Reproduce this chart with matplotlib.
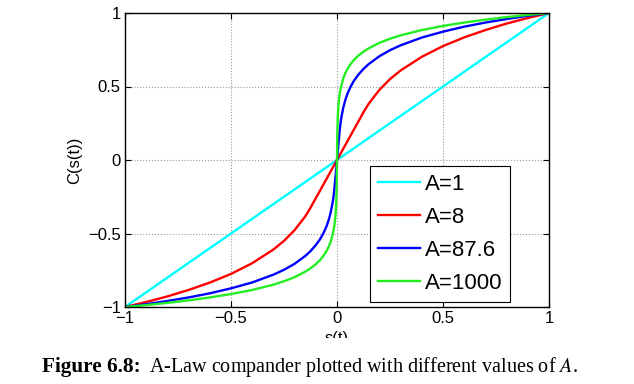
import matplotlib
matplotlib.use("Agg")
import matplotlib.pyplot as plt
from matplotlib.patches import Rectangle

# input s(t) samples shared by all curves
s = [-1.0, -0.9, -0.8, -0.7, -0.6, -0.5, -0.4, -0.3, -0.25, -0.2, -0.15, -0.125,
     -0.1, -0.08, -0.065, -0.05, -0.04, -0.03, -0.02, -0.015, -0.011, -0.007,
     -0.004, -0.002, -0.001, 0.0,
     0.001, 0.002, 0.004, 0.007, 0.011, 0.015, 0.02, 0.03, 0.04, 0.05, 0.065,
     0.08, 0.1, 0.125, 0.15, 0.2, 0.25, 0.3, 0.4, 0.5, 0.6, 0.7, 0.8, 0.9, 1.0]

c_a1 = [-1.0, -0.9, -0.8, -0.7, -0.6, -0.5, -0.4, -0.3, -0.25, -0.2, -0.15, -0.125,
        -0.1, -0.08, -0.065, -0.05, -0.04, -0.03, -0.02, -0.015, -0.011, -0.007,
        -0.004, -0.002, -0.001, 0.0,
        0.001, 0.002, 0.004, 0.007, 0.011, 0.015, 0.02, 0.03, 0.04, 0.05, 0.065,
        0.08, 0.1, 0.125, 0.15, 0.2, 0.25, 0.3, 0.4, 0.5, 0.6, 0.7, 0.8, 0.9, 1.0]

c_a8 = [-1.0, -0.966, -0.928, -0.884, -0.834, -0.775, -0.702, -0.609, -0.550, -0.477,
        -0.384, -0.325, -0.260, -0.208, -0.169, -0.130, -0.104, -0.078, -0.052, -0.039,
        -0.0286, -0.0182, -0.0104, -0.0052, -0.0026, 0.0,
        0.0026, 0.0052, 0.0104, 0.0182, 0.0286, 0.039, 0.052, 0.078, 0.104, 0.130,
        0.169, 0.208, 0.260, 0.325, 0.384, 0.477, 0.550, 0.609, 0.702, 0.775, 0.834,
        0.884, 0.928, 0.966, 1.0]

c_a876 = [-1.0, -0.981, -0.959, -0.935, -0.907, -0.873, -0.833, -0.780, -0.747, -0.706,
          -0.653, -0.620, -0.579, -0.539, -0.501, -0.453, -0.412, -0.359, -0.285, -0.233,
          -0.176, -0.112, -0.064, -0.032, -0.016, 0.0,
          0.016, 0.032, 0.064, 0.112, 0.176, 0.233, 0.285, 0.359, 0.412, 0.453, 0.501,
          0.539, 0.579, 0.620, 0.653, 0.706, 0.747, 0.780, 0.833, 0.873, 0.907, 0.935,
          0.959, 0.981, 1.0]

c_a1000 = [-1.0, -0.987, -0.972, -0.955, -0.935, -0.912, -0.884, -0.848, -0.825, -0.797,
           -0.760, -0.737, -0.709, -0.681, -0.654, -0.621, -0.593, -0.557, -0.505, -0.469,
           -0.430, -0.373, -0.302, -0.214, -0.126, 0.0,
           0.126, 0.214, 0.302, 0.373, 0.430, 0.469, 0.505, 0.557, 0.593, 0.621, 0.654,
           0.681, 0.709, 0.737, 0.760, 0.797, 0.825, 0.848, 0.884, 0.912, 0.935, 0.955,
           0.972, 0.987, 1.0]

labels = ["A=1", "A=8", "A=87.6", "A=1000"]
colors = ["#00ffff", "#ff0000", "#0000ff", "#22ee22"]
ticks = [-1, -0.5, 0, 0.5, 1]
tick_text = ["\u22121", "\u22120.5", "0", "0.5", "1"]

plt.rcParams['font.family'] = ['Liberation Sans', 'DejaVu Sans']
plt.rcParams['font.size'] = 12

fig = plt.figure(figsize=(6.34, 3.84), dpi=100)
ax = fig.add_axes([125 / 634, 1 - 307 / 384, 424 / 634, 294 / 384])

for ys, lab, col in zip([c_a1, c_a8, c_a876, c_a1000], labels, colors):
    ax.plot(s, ys, color=col, lw=1.7, label=lab)

ax.set_xlim(-1, 1)
ax.set_ylim(-1, 1)
ax.set_xticks(ticks)
ax.set_yticks(ticks)
ax.set_xticklabels(tick_text)
ax.set_yticklabels(tick_text)
ax.tick_params(direction='in', top=True, right=True, length=4, width=0.8, labelsize=12, pad=3)
ax.grid(True, linestyle=':', color='#999999', lw=0.8)
for sp in ax.spines.values():
    sp.set_linewidth(1.0)

ax.set_ylabel("C(s(t))", fontsize=12, labelpad=4)
ax.set_xlabel("s(t)", fontsize=12, labelpad=3.5)

leg = ax.legend(loc='lower right', bbox_to_anchor=(0.908, 0.017), fontsize=16,
                frameon=True, fancybox=False, edgecolor='black', framealpha=1,
                handlelength=1.9, handletextpad=0.2, labelspacing=0.55,
                borderpad=0.35, borderaxespad=0)
leg.get_frame().set_linewidth(0.8)

# white band hiding the lower part of the axis label, as in the cropped figure
fig.add_artist(Rectangle((0, 0), 1, 1 - 338 / 384, transform=fig.transFigure,
                         facecolor='white', edgecolor='none', zorder=10))

fig.text(42 / 634, 1 - 367 / 384, "Figure 6.8:", fontsize=15.3, fontweight='bold',
         family=['Liberation Serif'], va='center', ha='left', zorder=11)
fig.text(149 / 634, 1 - 367 / 384, "A-Law compander plotted with different values of $A$.",
         fontsize=14.5, family=['Liberation Serif'], va='center', ha='left', zorder=11,
         math_fontfamily='stix')

fig.savefig("out.png", dpi=100)
